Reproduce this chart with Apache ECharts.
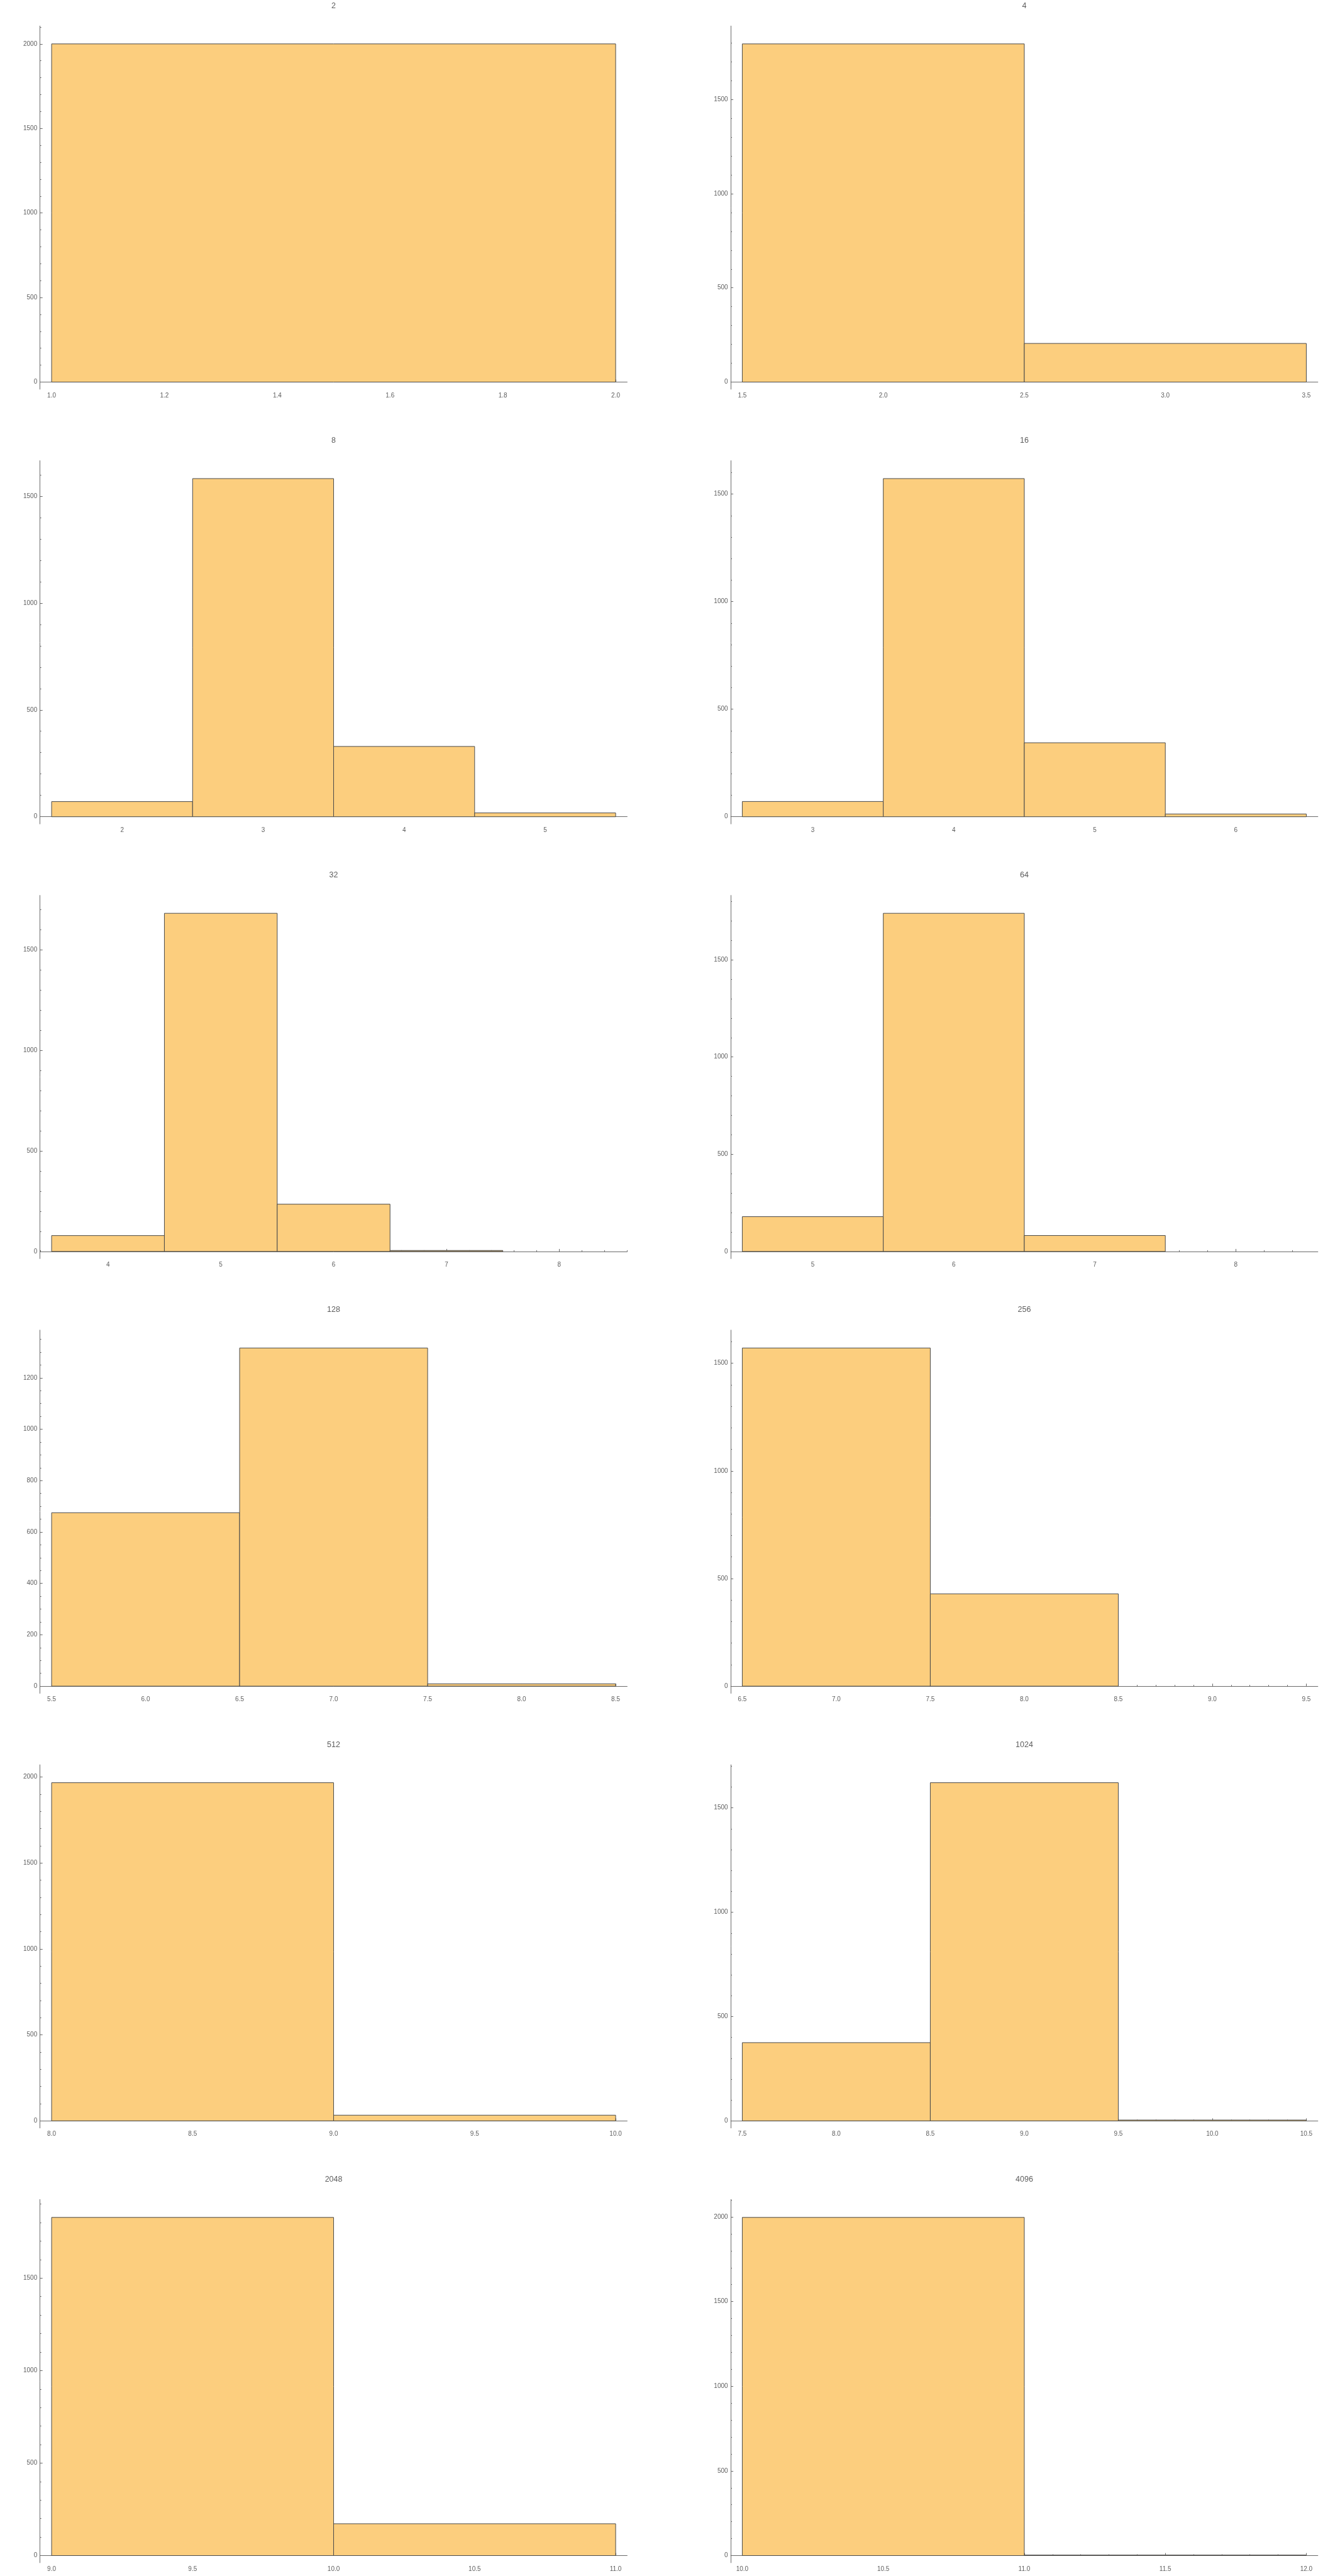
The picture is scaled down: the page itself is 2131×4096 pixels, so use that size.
<!DOCTYPE html>
<html>
<head>
<meta charset="utf-8">
<script src="https://cdn.jsdelivr.net/npm/echarts@6/dist/echarts.min.js"></script>
<style>
html,body{margin:0;padding:0;background:#ffffff;}
#chart{width:2131px;height:4096px;}
</style>
</head>
<body>
<div id="chart"></div>
<script>
// ---- data ----
const titles = ['2','4','8','16','32','64','128','256','512','1024','2048','4096'];
// left edge of the first bin of each histogram (bins are 1 wide)
const binStart = [1, 1.5, 1.5, 2.5, 3.5, 4.5, 5.5, 6.5, 8, 7.5, 9, 10];

const counts2    = [2000];
const counts4    = [1795, 205];
const counts8    = [71, 1582, 329, 18];
const counts16   = [71, 1572, 344, 13];
const counts32   = [79, 1681, 235, 5, 0];
const counts64   = [179, 1739, 82, 0];
const counts128  = [675, 1316, 9];
const counts256  = [1571, 429, 0];
const counts512  = [1967, 33];
const counts1024 = [375, 1621, 4];
const counts2048 = [1828, 172];
const counts4096 = [1997, 3];

const xTicks2    = ['1.0','1.2','1.4','1.6','1.8','2.0'];
const xTicks4    = ['1.5','2.0','2.5','3.0','3.5'];
const xTicks8    = ['2','3','4','5'];
const xTicks16   = ['3','4','5','6'];
const xTicks32   = ['4','5','6','7','8'];
const xTicks64   = ['5','6','7','8'];
const xTicks128  = ['5.5','6.0','6.5','7.0','7.5','8.0','8.5'];
const xTicks256  = ['6.5','7.0','7.5','8.0','8.5','9.0','9.5'];
const xTicks512  = ['8.0','8.5','9.0','9.5','10.0'];
const xTicks1024 = ['7.5','8.0','8.5','9.0','9.5','10.0','10.5'];
const xTicks2048 = ['9.0','9.5','10.0','10.5','11.0'];
const xTicks4096 = ['10.0','10.5','11.0','11.5','12.0'];

const yTicks2    = ['0','500','1000','1500','2000'];
const yTicks4    = ['0','500','1000','1500'];
const yTicks8    = ['0','500','1000','1500'];
const yTicks16   = ['0','500','1000','1500'];
const yTicks32   = ['0','500','1000','1500'];
const yTicks64   = ['0','500','1000','1500'];
const yTicks128  = ['0','200','400','600','800','1000','1200'];
const yTicks256  = ['0','500','1000','1500'];
const yTicks512  = ['0','500','1000','1500','2000'];
const yTicks1024 = ['0','500','1000','1500'];
const yTicks2048 = ['0','500','1000','1500'];
const yTicks4096 = ['0','500','1000','1500','2000'];

const allCounts = [counts2,counts4,counts8,counts16,counts32,counts64,counts128,counts256,counts512,counts1024,counts2048,counts4096];
const allXTicks = [xTicks2,xTicks4,xTicks8,xTicks16,xTicks32,xTicks64,xTicks128,xTicks256,xTicks512,xTicks1024,xTicks2048,xTicks4096];
const allYTicks = [yTicks2,yTicks4,yTicks8,yTicks16,yTicks32,yTicks64,yTicks128,yTicks256,yTicks512,yTicks1024,yTicks2048,yTicks4096];

// ---- styling / layout ----
const FILL = '#FCCE7E';
const EDGE = '#4a4a4a';
const AXIS = '#6a6a6a';
const LABEL = '#5e5e5e';
const FONT = '"Liberation Sans", Arial, Helvetica, sans-serif';
const COL_LEFT = [63.7, 1162.1];
const GRID_W = 933.7;
const ROW_TOP0 = 41.3, ROW_PITCH = 691.2, GRID_H = 577.6;
const TITLE_Y0 = 9.3;
const XPAD = 0.02046, YPAD_BOT = 0.0212, YPAD_TOP = 0.053;

function minorStep(majorStep) {
  const lead = majorStep / Math.pow(10, Math.floor(Math.log10(majorStep) + 1e-9));
  return Math.abs(lead - 2) < 1e-6 ? majorStep / 4 : majorStep / 5;
}
function rangeTicks(a, b, step) {
  const out = [];
  const n0 = Math.ceil(a / step - 1e-9), n1 = Math.floor(b / step + 1e-9);
  for (let n = n0; n <= n1; n++) out.push(Math.round(n * step * 1e6) / 1e6);
  return out;
}
function labelFor(list) {
  return function (v) {
    for (const s of list) { if (Math.abs(parseFloat(s) - v) < 1e-6) return s; }
    return '';
  };
}

const grids = [], xAxes = [], yAxes = [], series = [], graphics = [];
allCounts.forEach((counts, i) => {
  const col = i % 2, row = Math.floor(i / 2);
  const left = COL_LEFT[col], top = ROW_TOP0 + row * ROW_PITCH;
  grids.push({ left: left, top: top, width: GRID_W, height: GRID_H, containLabel: false, outerBoundsMode: 'none' });

  const lo = binStart[i], hi = lo + counts.length, xr = hi - lo;
  const xmin = lo - XPAD * xr, xmax = hi + XPAD * xr;
  const M = Math.max.apply(null, counts);
  const ymin = -YPAD_BOT * M, ymax = (1 + YPAD_TOP) * M;

  const xVals = allXTicks[i].map(parseFloat);
  const yVals = allYTicks[i].map(parseFloat);
  const xMinor = rangeTicks(xmin, xmax, minorStep(xVals[1] - xVals[0]));
  const yMinor = rangeTicks(0, ymax, minorStep(yVals[1] - yVals[0]));

  xAxes.push({
    type: 'value', gridIndex: i, position: 'bottom', min: xmin, max: xmax,
    axisLine: { show: true, onZero: true, lineStyle: { color: AXIS, width: 1 } },
    axisTick: { show: true, inside: true, length: 4, customValues: xVals, lineStyle: { color: AXIS, width: 1 } },
    axisLabel: { show: true, customValues: xVals, formatter: labelFor(allXTicks[i]), margin: 5,
                 color: LABEL, fontSize: 10, fontFamily: FONT, showMinLabel: true, showMaxLabel: true },
    splitLine: { show: false }
  });
  xAxes.push({
    type: 'value', gridIndex: i, position: 'bottom', min: xmin, max: xmax,
    axisLine: { show: false, onZero: true },
    axisTick: { show: true, inside: true, length: 2, customValues: xMinor, lineStyle: { color: AXIS, width: 1 } },
    axisLabel: { show: false },
    splitLine: { show: false }
  });
  yAxes.push({
    type: 'value', gridIndex: i, position: 'left', min: ymin, max: ymax,
    axisLine: { show: true, onZero: false, lineStyle: { color: AXIS, width: 1 } },
    axisTick: { show: true, inside: true, length: 4, customValues: yVals, lineStyle: { color: AXIS, width: 1 } },
    axisLabel: { show: true, customValues: yVals, formatter: labelFor(allYTicks[i]), margin: 4.5,
                 color: LABEL, fontSize: 10, fontFamily: FONT, showMinLabel: true, showMaxLabel: true },
    splitLine: { show: false }
  });
  yAxes.push({
    type: 'value', gridIndex: i, position: 'left', min: ymin, max: ymax,
    axisLine: { show: false, onZero: false },
    axisTick: { show: true, inside: true, length: 2, customValues: yMinor, lineStyle: { color: AXIS, width: 1 } },
    axisLabel: { show: false },
    splitLine: { show: false }
  });

  const barData = [];
  counts.forEach((c, k) => { if (c > 0) barData.push([lo + k, lo + k + 1, c]); });
  series.push({
    type: 'custom', xAxisIndex: 2 * i, yAxisIndex: 2 * i,
    data: barData, encode: { x: [0, 1], y: 2 }, clip: false, z: 1,
    renderItem: function (params, api) {
      const a = api.coord([api.value(0), api.value(2)]);
      const b = api.coord([api.value(1), 0]);
      return { type: 'rect',
        shape: { x: a[0], y: a[1], width: b[0] - a[0], height: b[1] - a[1] },
        style: { fill: FILL, stroke: EDGE, lineWidth: 1 } };
    }
  });

  graphics.push({
    type: 'text', x: left + GRID_W / 2, y: TITLE_Y0 + row * ROW_PITCH, silent: true,
    style: { text: titles[i], align: 'center', verticalAlign: 'middle', fontSize: 12.5, fontFamily: FONT, fill: LABEL }
  });
});

const chart = echarts.init(document.getElementById('chart'), null, { renderer: 'canvas', width: 2131, height: 4096 });
chart.setOption({
  animation: false,
  backgroundColor: '#ffffff',
  grid: grids,
  xAxis: xAxes,
  yAxis: yAxes,
  series: series,
  graphic: graphics
});
</script>
</body>
</html>
